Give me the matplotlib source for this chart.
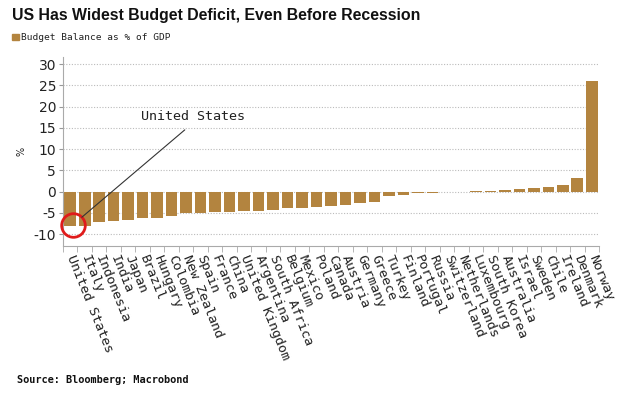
"""
    US budget balance vs other countries (% of GDP), sorted bar chart
"""
from matplotlib import pyplot as plt
import numpy as np

plt.rcParams['axes.unicode_minus'] = False

# data
countries = ["United States", "Italy", "Indonesia", "India", "Japan", "Brazil", "Hungary",
             "Colombia", "New Zealand", "Spain", "France", "China", "United Kingdom",
             "Argentina", "South Africa", "Belgium", "Mexico", "Poland", "Canada", "Austria",
             "Germany", "Greece", "Turkey", "Finland", "Portugal", "Russia", "Switzerland",
             "Netherlands", "Luxembourg", "South Korea", "Australia", "Israel", "Sweden",
             "Chile", "Ireland", "Denmark", "Norway"]
balance = [-8.0, -8.0, -7.2, -7.0, -6.7, -6.2, -6.2,
           -5.7, -4.9, -4.9, -4.8, -4.8, -4.5,
           -4.5, -4.3, -3.9, -3.8, -3.7, -3.3, -3.2,
           -2.7, -2.3, -0.9, -0.8, -0.4, -0.3, 0.02,
           0.05, 0.1, 0.15, 0.3, 0.55, 0.9,
           1.1, 1.6, 3.3, 26.1]
y_ticks = [-10, -5, 0, 5, 10, 15, 20, 25, 30]

bar_color = "#b3843f"
mono = "DejaVu Sans Mono"

fig = plt.figure(figsize=(6.44, 3.99), dpi=100)
ax = fig.add_axes([63 / 644, 1 - 245.7 / 399, 536 / 644, (245.7 - 57) / 399])

x = np.arange(len(countries))
ax.bar(x, balance, width=0.8, color=bar_color, zorder=2)

ax.set_xlim(-0.5, len(countries) - 0.5)
ax.set_ylim(-12.7, 31.7)

# y axis
ax.set_yticks(y_ticks)
ax.set_yticklabels([str(t) for t in y_ticks], fontsize=10, color="#222222")
ax.tick_params(axis="y", length=3, color="#999999", pad=2)
ax.set_ylabel("%", fontsize=7, rotation=90, color="#222222", labelpad=5)

# x axis: labels at bar centres, tick marks at the boundaries
ax.set_xticks(x)
ax.set_xticklabels(countries, family=mono, fontsize=9.6, rotation=-68,
                   rotation_mode="anchor", ha="left", va="center", color="#222222")
ax.tick_params(axis="x", which="major", length=0, pad=7)
ax.set_xticks(np.arange(-0.5, len(countries), 1), minor=True)
ax.tick_params(axis="x", which="minor", length=4, color="#aaaaaa")

for side in ["top", "right"]:
    ax.spines[side].set_visible(False)
ax.spines["left"].set_color("#aaaaaa")
ax.spines["bottom"].set_color("#aaaaaa")

ax.grid(axis="y", linestyle=(0, (1, 1.5)), color="#bbbbbb", linewidth=0.8, zorder=0)

# annotation for the US
us = countries.index("United States")
ax.plot(us + 0.2, balance[us] + 0.2, marker="o", markersize=17, markerfacecolor="none",
        markeredgecolor="#e01b1b", markeredgewidth=2, zorder=3, clip_on=False)
ax.annotate("United States", xy=(us + 0.8, balance[us] + 2.0), xytext=(8.5, 17.8),
            family=mono, fontsize=9.6, ha="center", va="center", color="#222222",
            arrowprops=dict(arrowstyle="-", color="#333333", lw=0.8,
                            relpos=(0.5, 0), shrinkA=5, shrinkB=0))

# title, legend, source
fig.text(12 / 644, 1 - 20 / 399, "US Has Widest Budget Deficit, Even Before Recession",
         family="Liberation Sans", fontsize=11.4, fontweight="bold", va="baseline",
         ha="left", color="#111111")
fig.patches.append(plt.Rectangle((12 / 644, 1 - 40 / 399), 6.5 / 644, 6.5 / 399,
                                 transform=fig.transFigure, color=bar_color))
fig.text(21 / 644, 1 - 37 / 399, "Budget Balance as % of GDP", family=mono,
         fontsize=6.8, va="center", ha="left", color="#222222")
fig.text(17 / 644, 1 - 380 / 399, "Source: Bloomberg; Macrobond", family=mono,
         fontsize=7.4, fontweight="bold", va="center", ha="left", color="#111111")

plt.savefig("out.png", dpi=100)
